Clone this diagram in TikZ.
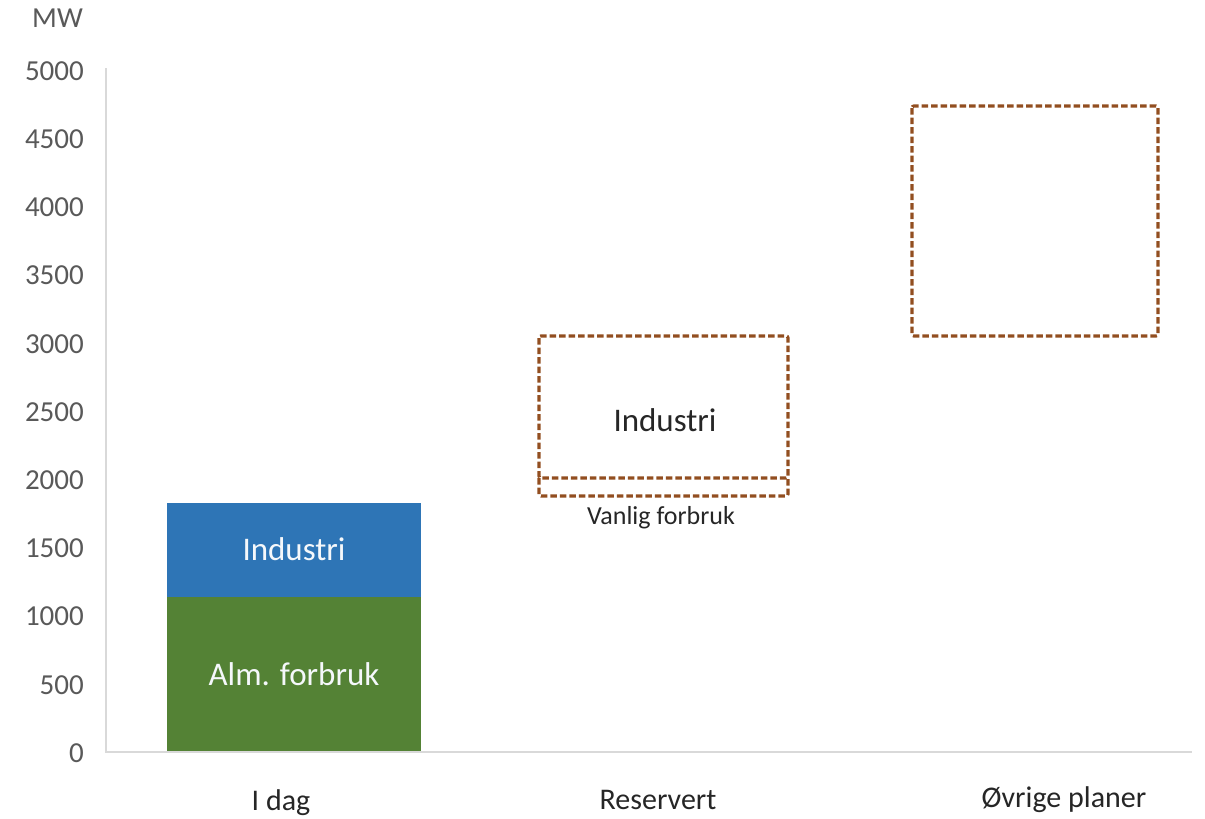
\documentclass[tikz,border=0pt]{standalone}
\usepackage{fontspec}
\setmainfont{Carlito}
\definecolor{barblue}{HTML}{2E75B6}
\definecolor{bargreen}{HTML}{548235}
\definecolor{planbrown}{RGB}{146,78,32}
\definecolor{axisgray}{HTML}{D9D9D9}
\definecolor{ticktext}{HTML}{595959}
\begin{document}
\begin{tikzpicture}[x=1pt,y=-1pt,
  ticklbl/.style={anchor=east,text=ticktext,font=\fontsize{29}{32}\selectfont,inner sep=0pt},
  catlbl/.style={text=black!85,font=\fontsize{30}{33}\selectfont,inner sep=0pt},
  barlbl/.style={text=white!95!barblue,font=\fontsize{33}{36}\selectfont,inner sep=0pt},
  planbox/.style={draw=planbrown,line width=3.2pt,dash pattern=on 6.5pt off 3pt,rounded corners=2pt},
  axisline/.style={draw=axisgray,line width=1.3pt}]
\useasboundingbox (0,0) rectangle (1205,819);
% axes
\draw[axisline] (106,68) -- (106,752) -- (1192,752);
% y tick labels (0 .. 5000, 136.4 px per 1000 MW)
\foreach \v [count=\i from 0] in {0,500,...,5000}
  \node[ticklbl] (tick\i) at (84,{753-\v*0.13640}) {\v};
\node[ticklbl] (unit) at (83,18) {MW};
% stacked bar "I dag"
\fill[bargreen] (167,597) rectangle (421,751);
\fill[barblue] (167,503) rectangle (421,597);
\node[barlbl] (alm) at (294,674) {Alm. forbruk};
\node[barlbl] (ind1) at (294,549) {Industri};
% reserved capacity: industry box with ordinary consumption strip below
\draw[planbox] (539,336) rectangle (788,478);
\draw[planbox] (539,478) -- (539,496) -- (788,496) -- (788,478);
\node[font=\fontsize{33}{36}\selectfont,text=black!85,inner sep=0pt] (ind2) at (665,420) {Industri};
\node[font=\fontsize{26}{28}\selectfont,text=black!85,inner sep=0pt] (vanlig) at (661,518) {Vanlig forbruk};
% other plans
\draw[planbox] (912,106) rectangle (1158,336);
% category labels
\node[catlbl] (cat1) at (281,803) {I dag};
\node[catlbl] (cat2) at (658,800) {Reservert};
\node[catlbl] (cat3) at (1064,800) {Øvrige planer};
\end{tikzpicture}
\end{document}
